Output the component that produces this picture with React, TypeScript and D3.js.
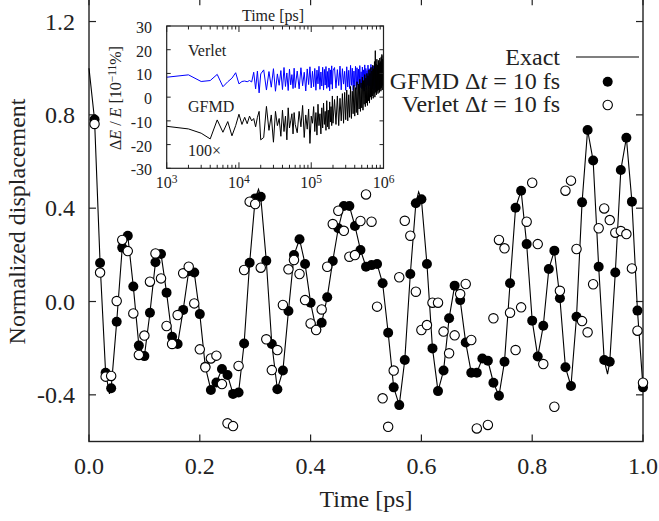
import React from "react";
import * as d3 from "d3";

// ---------------- main panel data ----------------
const timePs = [
  0.01, 0.02, 0.03, 0.04, 0.05, 0.06, 0.07, 0.08, 0.09, 0.1,
  0.11, 0.12, 0.13, 0.14, 0.15, 0.16, 0.17, 0.18, 0.19, 0.2,
  0.21, 0.22, 0.23, 0.24, 0.25, 0.26, 0.27, 0.28, 0.29, 0.3,
  0.31, 0.32, 0.33, 0.34, 0.35, 0.36, 0.37, 0.38, 0.39, 0.4,
  0.41, 0.42, 0.43, 0.44, 0.45, 0.46, 0.47, 0.48, 0.49, 0.5,
  0.51, 0.52, 0.53, 0.54, 0.55, 0.56, 0.57, 0.58, 0.59, 0.6,
  0.61, 0.62, 0.63, 0.64, 0.65, 0.66, 0.67, 0.68, 0.69, 0.7,
  0.71, 0.72, 0.73, 0.74, 0.75, 0.76, 0.77, 0.78, 0.79, 0.8,
  0.81, 0.82, 0.83, 0.84, 0.85, 0.86, 0.87, 0.88, 0.89, 0.9,
  0.91, 0.92, 0.93, 0.94, 0.95, 0.96, 0.97, 0.98, 0.99, 1.0,
];

const gfmdValues = [
  0.78, 0.165, -0.305, -0.372, -0.087, 0.231, 0.282, 0.064, -0.189, -0.234,
  -0.048, 0.168, 0.204, 0.038, -0.151, -0.182, -0.036, 0.13, 0.124, -0.054,
  -0.28, -0.379, -0.347, -0.289, -0.315, -0.396, -0.39, -0.18, 0.166, 0.442,
  0.449, 0.175, -0.182, -0.376, -0.296, -0.041, 0.199, 0.267, 0.161, -0.005,
  -0.12, -0.091, 0.018, 0.174, 0.314, 0.409, 0.409, 0.324, 0.221, 0.149,
  0.156, 0.161, 0.078, -0.134, -0.368, -0.444, -0.251, 0.118, 0.421, 0.438,
  0.161, -0.201, -0.384, -0.296, -0.072, 0.068, 0.006, -0.176, -0.305, -0.305,
  -0.244, -0.254, -0.348, -0.404, -0.258, 0.078, 0.402, 0.475, 0.246, -0.082,
  -0.236, -0.104, 0.139, 0.218, 0.014, -0.282, -0.362, -0.065, 0.425, 0.735,
  0.604, 0.149, -0.251, -0.258, 0.124, 0.564, 0.702, 0.428, -0.039, -0.368,
];

const verletValues: (number | null)[] = [
  0.761, 0.124, -0.322, -0.319, 0.002, 0.264, 0.216, -0.051, -0.229, -0.146,
  0.085, 0.206, 0.099, -0.105, -0.182, -0.058, 0.121, 0.149, -0.008, -0.205,
  -0.282, -0.244, -0.232, -0.354, -0.522, -0.534, -0.276, 0.135, 0.428, 0.418,
  0.145, -0.162, -0.294, -0.208, -0.015, 0.138, 0.178, 0.118, 0.006, -0.094,
  -0.122, -0.034, 0.149, 0.332, 0.389, 0.303, 0.192, 0.199, 0.345, 0.459,
  0.342, -0.022, -0.415, -0.537, -0.296, 0.104, 0.346, 0.282, 0.042, -0.122,
  -0.101, -0.005, -0.005, -0.129, -0.222, -0.145, 0.032, 0.075, -0.165, -0.544,
  null, -0.529, -0.072, 0.264, 0.228, -0.048, -0.208, -0.025, 0.342, 0.509,
  0.246, -0.268, null, -0.451, 0.046, 0.475, 0.518, 0.225, -0.084, -0.132,
  0.074, 0.314, 0.399, 0.349, 0.295, 0.302, 0.289, 0.142, -0.125, -0.348,
];

// extra samples of the exact solution (start value and peak tips between the MD samples)
const exactExtraTimes = [0.0, 0.037, 0.306, 0.595, 0.936];
const exactExtraValues = [1.0, -0.396, 0.481, 0.47, -0.311];

const xTickValues = [0, 0.2, 0.4, 0.6, 0.8, 1.0];
const xTickLabels = ["0.0", "0.2", "0.4", "0.6", "0.8", "1.0"];
const yTickValues = [-0.4, 0, 0.4, 0.8, 1.2];
const yTickLabels = ["-0.4", "0.0", "0.4", "0.8", "1.2"];

// ---------------- inset data ----------------
const insetTimeKps = [
  1, 2, 3, 4, 5, 6, 7, 8, 9, 10, 11, 12, 13, 14, 15, 16, 17, 18, 19, 20,
  22, 24, 26, 28, 30, 32, 34, 36, 38, 40, 42, 44, 46, 48, 50, 52, 54, 56, 58, 60,
  64, 68, 72, 76, 80, 84, 88, 92, 96, 100, 104, 108, 112, 116, 120, 124, 128, 132,
  136, 140, 144, 148, 152, 156, 160, 164, 168, 172, 176, 180, 184, 188, 192, 196, 200,
  210, 220, 230, 240, 250, 260, 270, 280, 290, 300, 310, 320, 330, 340, 350, 360, 370,
  380, 390, 400, 410, 420, 430, 440, 450, 460, 470, 480, 490, 500, 510, 520, 530, 540,
  550, 560, 570, 580, 590, 600, 610, 620, 630, 640, 650, 660, 670, 680, 690, 700, 710,
  720, 730, 740, 750, 760, 770, 780, 790, 800, 810, 820, 830, 840, 850, 860, 870, 880,
  890, 900, 910, 920, 930, 940, 950, 960, 970, 980, 990, 1000,
];

const insetVerlet = [
  8.4, 9.4, 6.6, 7.0, 9.6, 4.4, 6.5, 8.0, 10.3, 5.6, 6.6, 6.8, 6.5, 7.0, 6.4, 10.5, 3.5, 11.0, 1.8, 9.8,
  11.5, 3.0, 10.8, 4.2, 12.0, 2.5, 9.8, 5.0, 11.2, 3.2, 12.5, 4.5, 10.2, 2.8, 11.8, 5.2, 9.5, 3.6, 12.2, 4.0,
  11.0, 3.5, 12.4, 4.8, 10.5, 2.6, 11.9, 5.3, 12.8, 3.9, 10.9, 4.4, 12.1, 2.9, 11.4, 5.6, 13.0, 3.3,
  10.6, 4.7, 12.6, 3.0, 11.7, 5.1, 12.9, 3.7, 10.8, 4.2, 12.3, 2.7, 11.5, 5.4, 13.2, 3.4, 11.1,
  12.5, 3.8, 11.6, 4.9, 13.1, 3.1, 12.0, 5.5, 10.9, 2.9, 12.8, 4.3, 11.3, 3.6, 13.4, 5.0, 12.2,
  2.8, 11.0, 4.6, 13.0, 3.3, 12.4, 5.2, 11.8, 3.0, 13.3, 4.1, 10.7, 3.5, 12.7, 5.7, 11.5, 2.6,
  13.6, 4.4, 12.1, 3.2, 11.2, 5.0, 13.5, 3.7, 12.0, 4.8, 11.9, 2.9, 13.8, 4.2, 12.6, 3.4, 11.4,
  5.3, 13.2, 3.0, 12.3, 4.5, 13.9, 3.8, 11.7, 5.6, 12.9, 3.1, 13.6, 4.7, 12.2, 3.5, 14.0, 5.1,
  12.5, 3.9, 13.4, 6.0, 12.8, 4.4, 13.7, 5.5, 12.0, 4.9, 13.1, 7.5,
];

const insetGfmd = [
  -12.3, -13.4, -15.2, -17.6, -9.6, -14.8, -10.3, -16.3, -12.0, -7.2, -11.5, -8.5, -11.2, -8.0, -10.0, -9.0, -12.5, -8.5, -6.0, -18.0,
  -17.0, -3.9, -14.0, -7.5, -19.0, -6.0, -12.0, -9.0, -16.5, -5.5, -14.5, -8.0, -18.0, -4.5, -13.0, -10.0, -7.0, -15.5, -6.5, -11.5,
  -15.0, -6.0, -12.5, -3.5, -17.0, -7.5, -13.5, -5.0, -19.5, -8.0, -11.0, -4.0, -14.5, -6.5, -16.0, -3.0, -12.0, -7.0,
  -15.5, -4.5, -13.0, -2.5, -11.5, -6.0, -14.0, -1.5, -12.5, -5.5, -13.5, -2.0, -10.5, -4.0, -12.0, 0.5, -11.0,
  -1.0, -11.5, 0.5, -12.0, -0.5, -10.0, 1.5, -11.0, 2.0, -9.5, 3.0, -10.0, 1.0, -8.5, 4.5, -9.0, 2.5,
  -7.0, 5.0, -8.0, 4.0, -6.5, 6.5, -7.5, 5.5, -5.0, 7.5, -6.0, 6.0, -4.5, 8.5, -5.5, 7.0, -3.0,
  9.5, -4.0, 8.0, -2.5, 10.0, -3.5, 9.0, -1.5, 11.5, -2.5, 10.0, 0.0, 12.5, -1.0, 11.0, 0.5, 13.5,
  -0.5, 12.0, 1.5, 15.0, 0.0, 19.6, 2.0, 14.0, 1.0, 16.0, 2.5, 13.5, 1.5, 15.5, 3.0, 14.5, 2.0,
  16.5, 3.5, 15.0, 2.5, 17.0, 4.0, 18.0, 3.0, 16.0, 5.0, 17.5, 10.0,
];

const insetYTicks = [-30, -20, -10, 0, 10, 20, 30];
const insetYTickLabels = ["-30", "-20", "-10", "0", "10", "20", "30"];
const insetDecades = [1e3, 1e4, 1e5, 1e6];
const insetDecadeExp = ["3", "4", "5", "6"];

const FONT = "'Liberation Serif', 'Times New Roman', serif";
const INK = "#222";

export default function App() {
  // main scales
  const x = d3.scaleLinear().domain([0, 1]).range([89, 643]);
  const y = d3.scaleLinear().domain([-0.6, 1.3]).range([441.5, -1.8]);

  const gfmdPts = timePs.map((t, i) => ({ t, v: gfmdValues[i] }));
  const verletPts = timePs
    .map((t, i) => ({ t, v: verletValues[i] }))
    .filter((d) => d.v !== null) as { t: number; v: number }[];
  const exactPts = gfmdPts
    .concat(exactExtraTimes.map((t, i) => ({ t, v: exactExtraValues[i] })))
    .sort((a, b) => a.t - b.t);

  const line = d3
    .line<{ t: number; v: number }>()
    .x((d) => x(d.t))
    .y((d) => y(d.v));

  const [x0, x1] = x.range();
  const yBot = y(-0.6);
  const yTop = y(1.3);

  // inset scales
  const xl = d3.scaleLog().domain([1e3, 1e6]).range([166.7, 383.5]);
  const yl = d3.scaleLinear().domain([-30, 30]).range([168.3, 26]);
  const insetLine = d3
    .line<number>()
    .x((_, i) => xl(insetTimeKps[i] * 1000))
    .y((d) => yl(d));
  const minorTicks = xl.ticks();
  const [ix0, ix1] = xl.range();
  const [iyb, iyt] = yl.range();

  return (
    <svg
      width={659}
      height={521}
      style={{ position: "absolute", left: 0, top: 0, background: "#fff" }}
      fontFamily={FONT}
    >
      <rect x={0} y={0} width={659} height={521} fill="#fff" />

      {/* main frame */}
      <rect x={x0} y={yTop} width={x1 - x0} height={yBot - yTop} fill="none" stroke={INK} strokeWidth={1.4} />
      {yTickValues.map((v, i) => (
        <g key={"yt" + i}>
          <line x1={x0} x2={x0 + 7} y1={y(v)} y2={y(v)} stroke={INK} strokeWidth={1.2} />
          <line x1={x1 - 7} x2={x1} y1={y(v)} y2={y(v)} stroke={INK} strokeWidth={1.2} />
          <text x={75} y={y(v) + 8} textAnchor="end" fontSize={24} fill={INK}>
            {yTickLabels[i]}
          </text>
        </g>
      ))}
      {xTickValues.map((v, i) => (
        <g key={"xt" + i}>
          <line x1={x(v)} x2={x(v)} y1={yBot} y2={yBot - 7} stroke={INK} strokeWidth={1.2} />
          <line x1={x(v)} x2={x(v)} y1={yTop} y2={yTop + 7} stroke={INK} strokeWidth={1.2} />
          <text x={x(v)} y={474} textAnchor="middle" fontSize={24} fill={INK}>
            {xTickLabels[i]}
          </text>
        </g>
      ))}
      <text x={366} y={507} textAnchor="middle" fontSize={24} fill={INK}>
        Time [ps]
      </text>
      <text transform="translate(25,221.5) rotate(-90)" textAnchor="middle" fontSize={24} fill={INK}>
        Normalized displacement
      </text>

      {/* exact solution */}
      <path d={line(exactPts) || ""} fill="none" stroke="#000" strokeWidth={1.1} />
      {/* GFMD */}
      {gfmdPts.map((d, i) => (
        <circle key={"g" + i} cx={x(d.t)} cy={y(d.v)} r={5} fill="#000" />
      ))}
      {/* Verlet */}
      {verletPts.map((d, i) => (
        <circle key={"v" + i} cx={x(d.t)} cy={y(d.v)} r={4.7} fill="#fff" stroke="#000" strokeWidth={1.1} />
      ))}

      {/* legend */}
      <text x={560} y={65} textAnchor="end" fontSize={24} fill={INK}>
        Exact
      </text>
      <line x1={576} x2={639} y1={57} y2={57} stroke="#000" strokeWidth={1.1} />
      <text x={560} y={88.5} textAnchor="end" fontSize={24} fill={INK}>
        <tspan>GFMD Δ</tspan>
        <tspan fontStyle="italic">t</tspan>
        <tspan> = 10 fs</tspan>
      </text>
      <circle cx={607.7} cy={81.7} r={5} fill="#000" />
      <text x={560} y={112} textAnchor="end" fontSize={24} fill={INK}>
        <tspan>Verlet Δ</tspan>
        <tspan fontStyle="italic">t</tspan>
        <tspan> = 10 fs</tspan>
      </text>
      <circle cx={607.7} cy={105} r={4.7} fill="#fff" stroke="#000" strokeWidth={1.1} />

      {/* inset */}
      <rect x={ix0} y={iyt} width={ix1 - ix0} height={iyb - iyt} fill="#fff" />
      <path d={insetLine(insetVerlet) || ""} fill="none" stroke="#0000ff" strokeWidth={1} />
      <path d={insetLine(insetGfmd) || ""} fill="none" stroke="#000" strokeWidth={1} />
      <rect x={ix0} y={iyt} width={ix1 - ix0} height={iyb - iyt} fill="none" stroke={INK} strokeWidth={1.2} />
      {insetYTicks.map((v, i) => (
        <g key={"iy" + i}>
          <line x1={ix0} x2={ix0 + 4} y1={yl(v)} y2={yl(v)} stroke={INK} strokeWidth={1} />
          <line x1={ix1 - 4} x2={ix1} y1={yl(v)} y2={yl(v)} stroke={INK} strokeWidth={1} />
          <text x={152} y={yl(v) + 7} textAnchor="end" fontSize={16} fill={INK}>
            {insetYTickLabels[i]}
          </text>
        </g>
      ))}
      {minorTicks.map((t, i) => {
        const major = insetDecades.indexOf(t) >= 0;
        const len = major ? 6 : 3.5;
        return (
          <g key={"ix" + i}>
            <line x1={xl(t)} x2={xl(t)} y1={iyb} y2={iyb - len} stroke={INK} strokeWidth={1} />
            <line x1={xl(t)} x2={xl(t)} y1={iyt} y2={iyt + len} stroke={INK} strokeWidth={1} />
          </g>
        );
      })}
      {insetDecades.map((t, i) => (
        <text key={"il" + i} x={xl(t)} y={188} textAnchor="middle" fontSize={16} fill={INK}>
          <tspan>10</tspan>
          <tspan fontSize={11.5} dy={-5}>
            {insetDecadeExp[i]}
          </tspan>
        </text>
      ))}
      <text x={273} y={20.5} textAnchor="middle" fontSize={16} fill={INK}>
        Time [ps]
      </text>
      <text transform="translate(120.5,98) rotate(-90)" textAnchor="middle" fontSize={16} fill={INK}>
        <tspan>Δ</tspan>
        <tspan fontStyle="italic">E</tspan>
        <tspan> / </tspan>
        <tspan fontStyle="italic">E</tspan>
        <tspan> [10</tspan>
        <tspan fontSize={11.5} dy={-5}>
          −11
        </tspan>
        <tspan dy={5}>%]</tspan>
      </text>
      <text x={188} y={56} fontSize={16} fill={INK}>
        Verlet
      </text>
      <text x={188} y={112} fontSize={16} fill={INK}>
        GFMD
      </text>
      <text x={188} y={155.5} fontSize={16} fill={INK}>
        100×
      </text>
    </svg>
  );
}
